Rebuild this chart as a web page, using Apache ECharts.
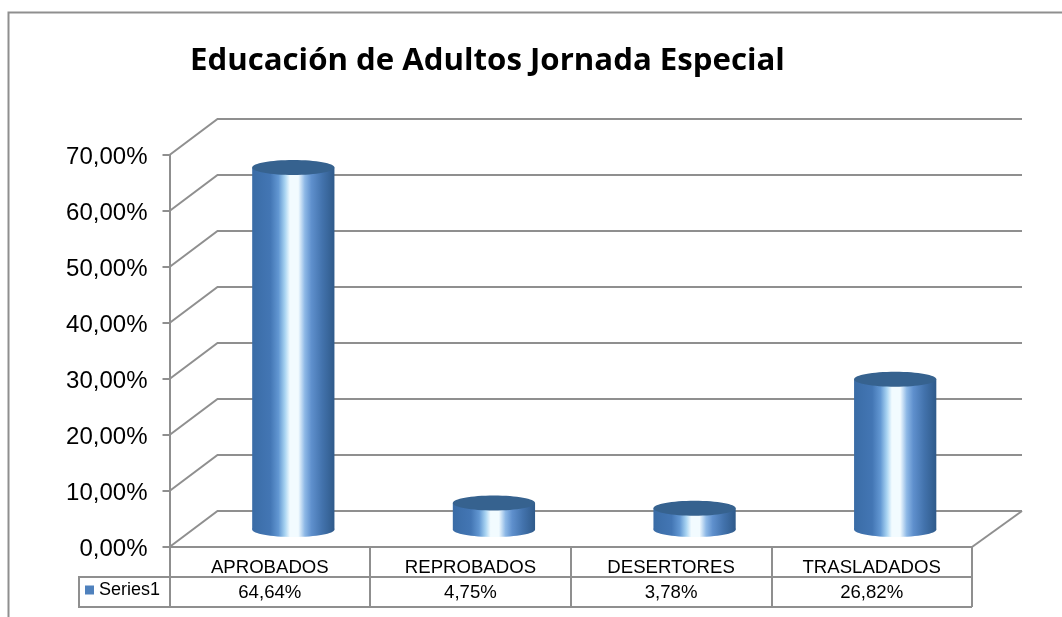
<!DOCTYPE html>
<html>
<head>
<meta charset="utf-8">
<script src="https://cdn.jsdelivr.net/npm/echarts@6/dist/echarts.min.js"></script>
<style>html,body{margin:0;padding:0;background:#fff}#c{width:1062px;height:617px}</style>
</head>
<body>
<div id="c"></div>
<script>
const titleText = 'Educación de Adultos Jornada Especial';
const seriesName = 'Series1';
const categories = ['APROBADOS', 'REPROBADOS', 'DESERTORES', 'TRASLADADOS'];
const values = [64.64, 4.75, 3.78, 26.82];
const wallTicks = [0, 10, 20, 30, 40, 50, 60, 70];

const GRAY = '#8f8f8f';
const DEPTH_X = 50, DEPTH_Y = 36;
const pct = v => v.toFixed(2).replace('.', ',') + '%';

const chart = echarts.init(document.getElementById('c'), null, {renderer: 'canvas'});

function renderWall(params, api) {
  const cs = params.coordSys;
  const y = api.coord([0, api.value(0)])[1];
  const x0 = cs.x, x1 = cs.x + cs.width;
  const children = [{
    type: 'polyline',
    shape: {points: [[x0, y], [x0 + DEPTH_X - 2, y - DEPTH_Y], [x1 + DEPTH_X, y - DEPTH_Y]]},
    style: {stroke: GRAY, lineWidth: 2, fill: null}
  }];
  if (api.value(0) === 0) {
    children.push({
      type: 'line',
      shape: {x1: x1, y1: y, x2: x1 + DEPTH_X, y2: y - DEPTH_Y},
      style: {stroke: GRAY, lineWidth: 2}
    });
  }
  return {type: 'group', children};
}

function renderCylinder(params, api) {
  const p = api.coord([api.value(0), api.value(1)]);
  const base = api.coord([api.value(0), 0]);
  const band = api.size([1, 0])[0];
  const rx = band * 0.205;
  const ry = 7.5;
  const cx = p[0] + 23.5, yTop = p[1] - 17.5, yBase = base[1] - 17.5;
  const body = {
    type: 'linear', x: 0, y: 0, x2: 1, y2: 0,
    colorStops: [
      {offset: 0, color: '#3a6ca6'},
      {offset: 0.22, color: '#4376b4'},
      {offset: 0.32, color: '#6297d2'},
      {offset: 0.40, color: '#a9d4f2'},
      {offset: 0.46, color: '#f2fbff'},
      {offset: 0.56, color: '#f2fbff'},
      {offset: 0.64, color: '#8db8e6'},
      {offset: 0.72, color: '#5f90cd'},
      {offset: 0.85, color: '#4373ad'},
      {offset: 1, color: '#2f5a8a'}
    ]
  };
  return {
    type: 'group',
    children: [
      {type: 'ellipse', shape: {cx, cy: yBase, rx, ry}, style: {fill: body}},
      {type: 'rect', shape: {x: cx - rx, y: yTop, width: rx * 2, height: yBase - yTop}, style: {fill: body}},
      {type: 'ellipse', shape: {cx, cy: yTop, rx, ry}, style: {fill: '#36628f'}}
    ]
  };
}

const option = {
  backgroundColor: '#ffffff',
  animation: false,
  title: {
    text: titleText,
    left: 185,
    top: 41,
    textStyle: {fontFamily: 'Open Sans', fontWeight: 'bold', fontSize: 31.2, color: '#000'}
  },
  legend: {
    data: [{name: seriesName, icon: 'rect'}],
    left: 85, top: 581,
    itemWidth: 9, itemHeight: 9, itemGap: 5, padding: 0,
    textStyle: {fontFamily: 'Liberation Sans', fontSize: 18, color: '#000'}
  },
  grid: {left: 169.5, right: 90, top: 155, bottom: 70, containLabel: false},
  xAxis: [{
    type: 'category', data: categories, position: 'bottom',
    axisLine: {lineStyle: {color: GRAY, width: 2}},
    axisTick: {show: true, length: 30, lineStyle: {color: GRAY, width: 2}},
    axisLabel: {fontFamily: 'Liberation Sans', fontSize: 18.6, color: '#000', margin: 11, interval: 0}
  }, {
    type: 'category', data: values.map(pct), position: 'bottom', offset: 30,
    axisLine: {lineStyle: {color: GRAY, width: 2}},
    axisTick: {show: true, length: 30, lineStyle: {color: GRAY, width: 2}},
    axisLabel: {fontFamily: 'Liberation Sans', fontSize: 18.6, color: '#000', margin: 6, interval: 0}
  }],
  yAxis: {
    type: 'value', min: 0, max: 70, interval: 10,
    axisLine: {show: true, lineStyle: {color: GRAY, width: 2}},
    axisTick: {show: true, length: 7, lineStyle: {color: GRAY, width: 2}},
    axisLabel: {
      margin: 22,
      formatter: v => '{t|' + pct(v) + '}',
      rich: {t: {fontFamily: 'Liberation Sans', fontSize: 24, color: '#000', padding: [4, 0, 0, 0]}}
    },
    splitLine: {show: false}
  },
  graphic: [
    {type: 'polyline', silent: true, shape: {points: [[8.5, 617], [8.5, 12.5], [1062, 12.5]]},
     style: {stroke: GRAY, lineWidth: 2, fill: null}},
    {type: 'polyline', silent: true, shape: {points: [[169, 577], [79, 577], [79, 607], [972, 607]]},
     style: {stroke: GRAY, lineWidth: 2, fill: null}}
  ],
  series: [{
    name: 'wall', type: 'custom', coordinateSystem: 'cartesian2d', clip: false, z: 1, silent: true,
    renderItem: renderWall, encode: {y: 0},
    data: wallTicks.map(v => [v])
  }, {
    name: seriesName, type: 'custom', coordinateSystem: 'cartesian2d', clip: false, z: 3,
    itemStyle: {color: '#4f81bd'},
    renderItem: renderCylinder, encode: {x: 0, y: 1},
    data: values.map((v, i) => [i, v])
  }]
};
chart.setOption(option);
</script>
</body>
</html>
